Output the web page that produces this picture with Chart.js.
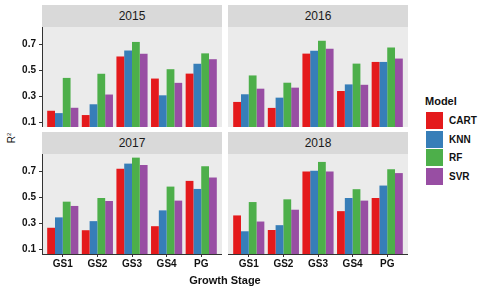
<!DOCTYPE html>
<html>
<head>
<meta charset="utf-8">
<script src="https://cdn.jsdelivr.net/npm/chart.js@4.4.1/dist/chart.umd.min.js"></script>
<style>
  body { margin: 0; background: #fff; font-family: "Liberation Sans", Arial, sans-serif; }
  #wrap { position: relative; width: 480px; height: 288px; overflow: hidden; }
  canvas { position: absolute; }
  .strip { position: absolute; width: 180px; height: 22px; background: #d9d9d9; color: #1a1a1a;
           font-size: 12px; line-height: 22px; text-align: center; }
  .lab { position: absolute; color: #111; white-space: nowrap; }
  .key { position: absolute; left: 426px; width: 17px; height: 17px; }
</style>
</head>
<body>
<div id="wrap">
  <div class="strip" style="left:42px;top:5px">2015</div>
  <div class="strip" style="left:228px;top:5px">2016</div>
  <div class="strip" style="left:42px;top:132px">2017</div>
  <div class="strip" style="left:228px;top:132px">2018</div>
  <canvas id="c2015" width="222" height="100" style="left:0;top:27px"></canvas>
  <canvas id="c2016" width="180" height="100" style="left:228px;top:27px"></canvas>
  <canvas id="c2017" width="222" height="122" style="left:0;top:154px"></canvas>
  <canvas id="c2018" width="180" height="122" style="left:228px;top:154px"></canvas>
  <div class="lab" style="left:2px;top:131px;width:14px;height:14px;font-size:10px;line-height:14px;text-align:center;transform:rotate(-90deg)">R<sup style="font-size:6px">2</sup></div>
  <div class="lab" style="left:42px;top:273px;width:366px;text-align:center;font-size:11px;font-weight:bold;line-height:14px">Growth Stage</div>
  <div class="lab" style="left:425px;top:94px;font-size:11px;font-weight:bold;line-height:14px">Model</div>
  <div id="legend"></div>
</div>
<script>
const categories = ['GS1', 'GS2', 'GS3', 'GS4', 'PG'];
const models = ['CART', 'KNN', 'RF', 'SVR'];
const colors = ['#E41A1C', '#377EB8', '#4DAF4A', '#984EA3'];
const yTicks = [0.1, 0.3, 0.5, 0.7];

// R2 values per year and model
const cart2015 = [0.190, 0.157, 0.608, 0.438, 0.476];
const knn2015  = [0.172, 0.240, 0.654, 0.309, 0.552];
const rf2015   = [0.443, 0.475, 0.720, 0.510, 0.632];
const svr2015  = [0.213, 0.315, 0.629, 0.405, 0.587];

const cart2016 = [0.258, 0.212, 0.630, 0.342, 0.566];
const knn2016  = [0.317, 0.291, 0.652, 0.393, 0.566];
const rf2016   = [0.462, 0.406, 0.729, 0.553, 0.677];
const svr2016  = [0.360, 0.368, 0.667, 0.390, 0.592];

const cart2017 = [0.267, 0.248, 0.722, 0.279, 0.628];
const knn2017  = [0.347, 0.318, 0.761, 0.401, 0.566];
const rf2017   = [0.468, 0.496, 0.807, 0.584, 0.740];
const svr2017  = [0.435, 0.473, 0.750, 0.476, 0.654];

const cart2018 = [0.362, 0.250, 0.701, 0.395, 0.496];
const knn2018  = [0.240, 0.287, 0.706, 0.496, 0.592];
const rf2018   = [0.465, 0.486, 0.774, 0.564, 0.717];
const svr2018  = [0.315, 0.406, 0.701, 0.476, 0.688];

Chart.defaults.font.family = '"Liberation Sans", Arial, sans-serif';

// panel is 180px wide, 5 groups + 0.6 padding each side, dodge width 0.9
const barW = 180 / 5.2 * 0.9 / models.length;

// grey panel background
const panelBg = {
    id: 'panelBg',
    beforeDraw(chart) {
        const a = chart.chartArea;
        chart.ctx.save();
        chart.ctx.fillStyle = '#ebebeb';
        chart.ctx.fillRect(a.left, a.top, a.right - a.left, a.bottom - a.top);
        chart.ctx.restore();
    }
};

function noPad(s) {
    s.paddingTop = 0; s.paddingBottom = 0; s.paddingLeft = 0; s.paddingRight = 0;
}

function makePanel(id, series, showX, showY) {
    const datasets = series.map(function (vals, m) {
        return {
            label: models[m],
            data: vals.map(function (v, i) { return { x: i, y: v }; }),
            backgroundColor: colors[m],
            borderWidth: 0,
            barThickness: barW,
            inflateAmount: 0
        };
    });

    new Chart(document.getElementById(id), {
        type: 'bar',
        data: { datasets: datasets },
        plugins: [panelBg],
        options: {
            responsive: false,
            animation: false,
            devicePixelRatio: 1,
            layout: { padding: 0 },
            plugins: { legend: { display: false }, tooltip: { enabled: false } },
            scales: {
                x: {
                    type: 'linear',
                    bounds: 'data',
                    offset: false,
                    min: -0.6,
                    max: 4.6,
                    display: showX,
                    afterBuildTicks: function (s) { s.ticks = categories.map(function (c, i) { return { value: i }; }); },
                    afterFit: function (s) { s.height = showX ? 22 : 0; noPad(s); },
                    grid: { offset: false, drawOnChartArea: false, drawTicks: true, tickLength: 3, color: '#333' },
                    border: { display: true, color: '#333', width: 1 },
                    ticks: {
                        padding: 1,
                        color: '#111',
                        font: { size: 10, weight: 'bold' },
                        callback: function (v) { return categories[v]; }
                    }
                },
                y: {
                    bounds: 'data',
                    min: 0.065,
                    max: 0.835,
                    display: showY,
                    afterBuildTicks: function (s) { s.ticks = yTicks.map(function (v) { return { value: v }; }); },
                    afterFit: function (s) { s.width = showY ? 42 : 0; noPad(s); },
                    grid: { drawOnChartArea: false, drawTicks: true, tickLength: 3, color: '#333' },
                    border: { display: true, color: '#333', width: 1 },
                    ticks: {
                        padding: 3,
                        color: '#111',
                        font: { size: 10, weight: 'bold' },
                        callback: function (v) { return v.toFixed(1); }
                    }
                }
            }
        }
    });
}

makePanel('c2015', [cart2015, knn2015, rf2015, svr2015], false, true);
makePanel('c2016', [cart2016, knn2016, rf2016, svr2016], false, false);
makePanel('c2017', [cart2017, knn2017, rf2017, svr2017], true, true);
makePanel('c2018', [cart2018, knn2018, rf2018, svr2018], true, false);

// legend
const legend = document.getElementById('legend');
models.forEach(function (m, i) {
    const top = 112 + i * 18.6;
    const k = document.createElement('div');
    k.className = 'key';
    k.style.top = top + 'px';
    k.style.background = colors[i];
    legend.appendChild(k);
    const t = document.createElement('div');
    t.className = 'lab';
    t.style.cssText = 'left:449px;top:' + (top + 1) + 'px;font-size:10px;font-weight:bold;line-height:15px';
    t.textContent = m;
    legend.appendChild(t);
});
</script>
</body>
</html>
